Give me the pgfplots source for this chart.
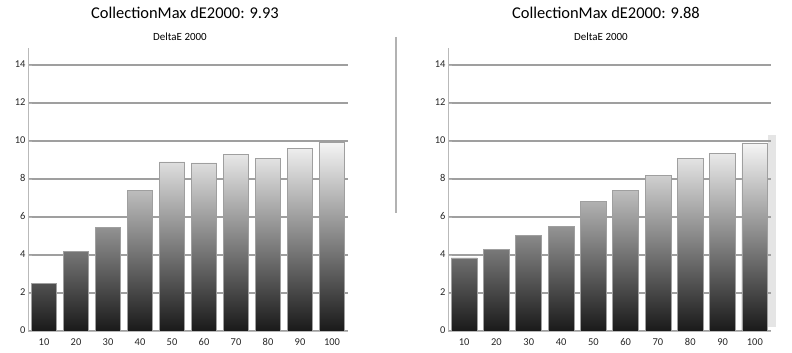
\documentclass[border=0pt]{standalone}
\usepackage{fontspec}
\setmainfont{Carlito}
\usepackage{pgfplots}
\pgfplotsset{compat=1.18}
\pgfplotsset{mychart/.style={
  scale only axis, height=283bp, ymin=0, ymax=14.9, xmin=-0.5, xmax=9.5,
  ytick={0,2,4,6,8,10,12,14}, xtick={0,1,2,3,4,5,6,7,8,9},
  xticklabels={10,20,30,40,50,60,70,80,90,100},
  ymajorgrids, grid style={gray!75, line width=2bp},
  axis line style={gray!55, line width=1bp},
  axis x line*=bottom, axis y line*=left,
  tick style={gray!60},
  major x tick style={draw=none},
  typeset ticklabels with strut,
  yticklabel style={font=\fontsize{10.5}{11}\selectfont, text=black!85, xshift=1bp},
  xticklabel style={font=\fontsize{10.5}{11}\selectfont, text=black!85, yshift=1bp},
  /pgf/number format/assume math mode=true,
  ybar, bar width=0.8,
  anchor=south west,
}}
\begin{document}
\begin{tikzpicture}
\useasboundingbox (0bp,0bp) rectangle (792bp,353bp);
\fill[gray!20] (768bp,26bp) rectangle (776bp,218bp);
\begin{axis}[mychart, width=320bp, at={(28bp,22bp)}]
\addplot[draw=gray!75, line width=0.7bp, shade, top color=gray!8, bottom color=black!90]
 coordinates {(0,2.5) (1,4.2) (2,5.45) (3,7.4) (4,8.9) (5,8.85) (6,9.3) (7,9.1) (8,9.6) (9,9.93)};
\end{axis}
\begin{axis}[mychart, width=323bp, at={(448bp,22bp)}]
\addplot[draw=gray!75, line width=0.7bp, shade, top color=gray!8, bottom color=black!90]
 coordinates {(0,3.85) (1,4.3) (2,5.05) (3,5.5) (4,6.8) (5,7.4) (6,8.2) (7,9.1) (8,9.35) (9,9.88)};
\end{axis}
\node[font=\fontsize{16.5}{18}\selectfont] at (185bp,340bp) {CollectionMax dE2000: 9.93};
\node[font=\fontsize{11}{12}\selectfont] at (180bp,316bp) {DeltaE 2000};
\node[font=\fontsize{16.5}{18}\selectfont] at (606bp,340bp) {CollectionMax dE2000: 9.88};
\node[font=\fontsize{11}{12}\selectfont] at (601bp,316bp) {DeltaE 2000};
\draw[gray!60, line width=1.5bp] (396bp,316bp) -- (396bp,140bp);
\end{tikzpicture}
\end{document}
